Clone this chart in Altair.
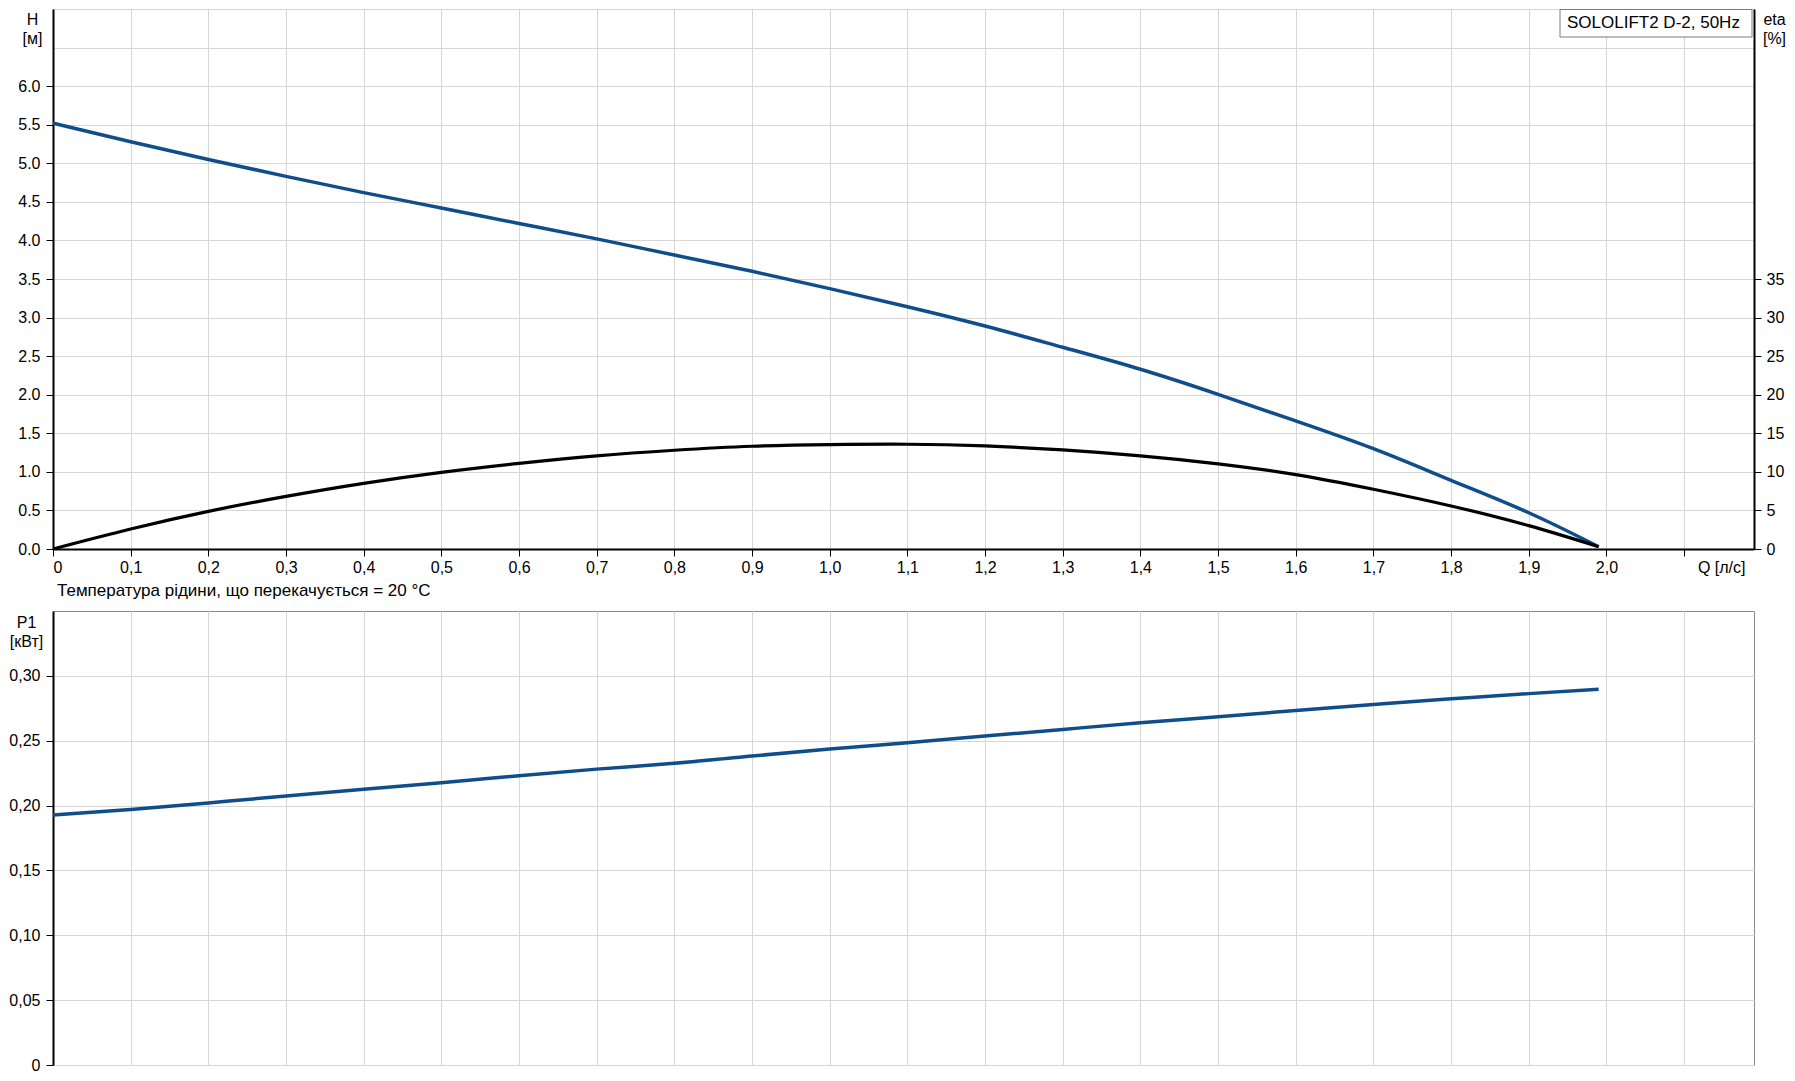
import altair as alt
import pandas as pd

# ---- data ----
q_ls = [0.0, 0.1, 0.2, 0.3, 0.4, 0.5, 0.6, 0.7, 0.8, 0.9, 1.0,
        1.1, 1.2, 1.3, 1.4, 1.5, 1.6, 1.7, 1.8, 1.9, 1.99]
head_m = [5.52, 5.28, 5.05, 4.83, 4.62, 4.42, 4.22, 4.02, 3.81, 3.60, 3.375,
          3.14, 2.89, 2.615, 2.33, 2.005, 1.66, 1.30, 0.89, 0.47, 0.03]
eta_pct = [0.0, 2.59, 4.88, 6.82, 8.51, 9.93, 11.10, 12.08, 12.80, 13.32, 13.53,
           13.58, 13.36, 12.84, 12.07, 11.04, 9.65, 7.75, 5.58, 3.03, 0.3]
p1_kw = [0.1928, 0.1969, 0.2020, 0.2074, 0.2125, 0.2176, 0.2230, 0.2281, 0.2326, 0.2382, 0.2436,
         0.2485, 0.2536, 0.2587, 0.2638, 0.2684, 0.2733, 0.2779, 0.2823, 0.2863, 0.2896]

x_ticks = [round(i * 0.1, 1) for i in range(22)]          # 0 .. 2.1
h_ticks = [i * 0.5 for i in range(15)]                     # 0 .. 7.0
eta_ticks = [0, 5, 10, 15, 20, 25, 30, 35]
p_ticks = [0, 0.05, 0.10, 0.15, 0.20, 0.25, 0.30]

pump_label = "SOLOLIFT2 D-2, 50Hz"
temp_note = "Температура рідини, що перекачується = 20 °C"

df = pd.DataFrame({"Q": q_ls, "H": head_m, "eta": eta_pct, "P1": p1_kw})

FONT = "Liberation Sans"
BLUE = "#0f4e8a"
GRID = "#d6d6d6"
FS = 16

xscale = alt.Scale(domain=[0, 2.19], nice=False, zero=False)

common_axis = dict(labelFont=FONT, labelFontSize=FS, labelColor="black",
                   titleFont=FONT, titleFontSize=FS, titleFontWeight="normal",
                   titleColor="black", tickColor="black", tickSize=7,
                   domainColor="black", domainWidth=2, gridColor=GRID, gridWidth=1)

x_top_axis = alt.Axis(
    values=x_ticks, grid=True,
    labelExpr="datum.value == 0 ? '0' : (datum.value > 2.05 ? '' : replace(format(datum.value, '.1f'), '.', ','))",
    labelPadding=3, labelAngle=0,
    title="Q [л/с]", titleX=1692, titleY=23, titleAlign="right",
    titleBaseline="alphabetic", titleAngle=0,
    **common_axis)

h_axis = alt.Axis(
    orient="left", values=h_ticks, grid=True,
    labelExpr="datum.value > 6.01 ? '' : format(datum.value, '.1f')",
    tickOpacity={"condition": {"test": "datum.value > 6.01", "value": 0}, "value": 1},
    labelPadding=6,
    title=["H", "[м]"], titleAngle=0, titleAlign="center", titleBaseline="alphabetic",
    titleX=-21, titleY=15, titleLineHeight=19,
    **common_axis)

eta_axis = alt.Axis(
    orient="right", values=eta_ticks, grid=False, labelPadding=5,
    title=["eta", "[%]"], titleAngle=0, titleAlign="center", titleBaseline="alphabetic",
    titleX=20, titleY=15, titleLineHeight=19,
    **common_axis)

base = alt.Chart(df)

h_line = base.mark_line(color=BLUE, strokeWidth=3.5, interpolate="natural").encode(
    x=alt.X("Q:Q", scale=xscale, axis=x_top_axis),
    y=alt.Y("H:Q", scale=alt.Scale(domain=[0, 7], nice=False), axis=h_axis),
)
eta_line = base.mark_line(color="black", strokeWidth=3.2, interpolate="natural").encode(
    x=alt.X("Q:Q", scale=xscale),
    y=alt.Y("eta:Q", scale=alt.Scale(domain=[0, 70], nice=False), axis=eta_axis),
)

lab_data = alt.Data(values=[{"label": pump_label}])
box = alt.Chart(lab_data).mark_rect(fill="white", stroke="#7a7a7a", strokeWidth=1).encode(
    x=alt.value(1507), x2=alt.value(1699), y=alt.value(0.5), y2=alt.value(28))
box_text = alt.Chart(lab_data).mark_text(
    font=FONT, fontSize=17, align="left", baseline="alphabetic", color="black").encode(
    x=alt.value(1514), y=alt.value(18.5), text="label:N")

top = alt.layer(h_line, eta_line, box, box_text).resolve_scale(y="independent").properties(
    width=1701, height=540)

x_bot_axis = alt.Axis(values=x_ticks, grid=True, labels=False, ticks=False, domain=False,
                      title=None, gridColor=GRID, gridWidth=1)
p_axis = alt.Axis(
    orient="left", values=p_ticks, grid=True,
    labelExpr="datum.value == 0 ? '0' : replace(format(datum.value, '.2f'), '.', ',')",
    labelPadding=6,
    title=["P1", "[кВт]"], titleAngle=0, titleAlign="center", titleBaseline="alphabetic",
    titleX=-27, titleY=16, titleLineHeight=19,
    **common_axis)

bottom = alt.Chart(df).mark_line(color=BLUE, strokeWidth=3.5, interpolate="natural").encode(
    x=alt.X("Q:Q", scale=xscale, axis=x_bot_axis),
    y=alt.Y("P1:Q", scale=alt.Scale(domain=[0, 0.35], nice=False), axis=p_axis),
).properties(
    width=1701, height=454,
    title=alt.TitleParams(text=temp_note, anchor="start", frame="group", dx=4, dy=17, offset=15,
                          baseline="alphabetic", font=FONT, fontSize=17,
                          fontWeight="normal", color="black"))

chart = alt.vconcat(top, bottom, spacing=62, bounds="flush").properties(
    padding=0, background="white"
).configure_view(stroke="#8a8a8a", strokeWidth=1)

chart.save("out.html", embed_options={"renderer": "svg", "actions": False})
